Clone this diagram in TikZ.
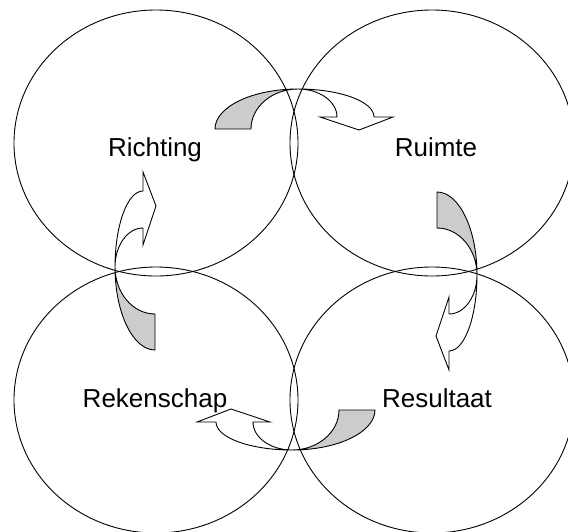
\documentclass[tikz,border=0pt]{standalone}
\usepackage{fontspec}
\setmainfont{Liberation Sans}
\usetikzlibrary{shapes.geometric, positioning}
\definecolor{schaduw}{HTML}{CCCCCC}

\tikzset{
  pijl/.pic={
    \filldraw[fill=schaduw] (-83,40) .. controls (-83,18) and (-46,0) .. (0,0)
        .. controls (-26,0) and (-47,18) .. (-47,40) -- cycle;
    \filldraw[fill=white] (0,0) .. controls (21.5,0) and (39,12.5) .. (39,28)
        -- (22,28) -- (61,41) -- (95,28) -- (76,28)
        .. controls (76,12.5) and (42,0) .. (0,0) -- cycle;
  }
}

\begin{document}
\begin{tikzpicture}[x=1pt, y=-1pt, line width=0.9pt, line join=miter,
    kring/.style={draw, ellipse, minimum width=284pt, minimum height=266pt, inner sep=0pt},
    woord/.style={anchor=base, inner sep=0pt, font=\fontsize{26}{30}\selectfont}]
   \useasboundingbox (0,0) rectangle (568,531);

   \node[kring] (k1) at (156,143) {};
   \node[kring] (k2) at (432,143) {};
   \node[kring] (k3) at (156,400) {};
   \node[kring] (k4) at (432,400) {};

   \node[woord] (richting) at (155,156) {Richting};
   \node[woord] (ruimte) at (436,156) {Ruimte};
   \node[woord] (rekenschap) at (155,407) {Rekenschap};
   \node[woord] (resultaat) at (437,407) {Resultaat};

   \pic at (298,89) {pijl};
   \pic[rotate=-90] at (477,275) {pijl};
   \pic[rotate=180] at (292,450) {pijl};
   \pic[rotate=90] at (115,267) {pijl};
\end{tikzpicture}
\end{document}
